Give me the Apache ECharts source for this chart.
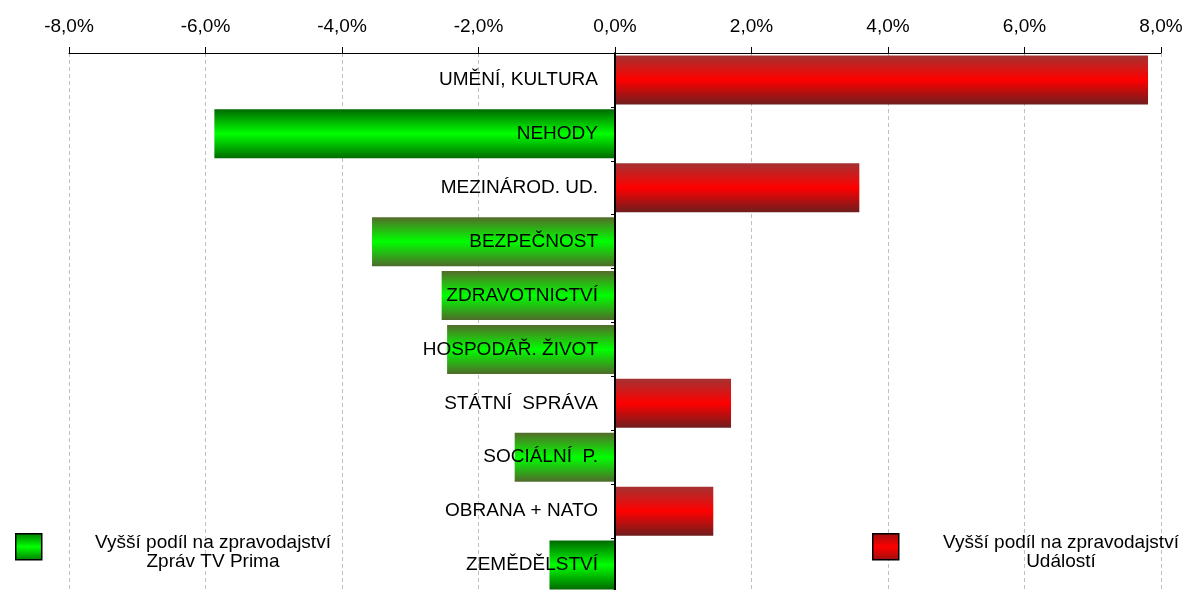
<!DOCTYPE html>
<html>
<head>
<meta charset="utf-8">
<script src="https://cdn.jsdelivr.net/npm/echarts@6/dist/echarts.min.js"></script>
<style>
html,body{margin:0;padding:0;background:#fff;}
#chart{width:1191px;height:590px;}
</style>
</head>
<body>
<div id="chart"></div>
<script>
// ---- data ----
const categories = ['UMĚNÍ, KULTURA', 'NEHODY', 'MEZINÁROD. UD.', 'BEZPEČNOST', 'ZDRAVOTNICTVÍ',
  'HOSPODÁŘ. ŽIVOT', 'STÁTNÍ  SPRÁVA', 'SOCIÁLNÍ  P.', 'OBRANA + NATO', 'ZEMĚDĚLSTVÍ'];
const values = [7.81, -5.87, 3.58, -3.56, -2.54, -2.46, 1.70, -1.47, 1.44, -0.96];
const axisTicks = [-8, -6, -4, -2, 0, 2, 4, 6, 8];
const legendLabels = ['Vyšší podíl na zpravodajství\nZpráv TV Prima', 'Vyšší podíl na zpravodajství\nUdálostí'];

// ---- styles ----
const FONT = '"Liberation Sans", Arial, sans-serif';
const darkGreenCats = ['NEHODY', 'ZEMĚDĚLSTVÍ'];
function grad(edgeTop, mid, edgeBottom) {
  return new echarts.graphic.LinearGradient(0, 0, 0, 1, [
    {offset: 0, color: edgeTop}, {offset: 0.5, color: mid}, {offset: 1, color: edgeBottom}
  ]);
}
const redGrad = () => grad('#a33232', '#ff0000', '#6e1e1e');
const greenDark = () => grad('#006a00', '#00ff00', '#006a00');
const greenOlive = () => grad('#556b2a', '#00ff00', '#4f6a2a');

const chart = echarts.init(document.getElementById('chart'));
const option = {
  animation: false,
  textStyle: {fontFamily: FONT},
  grid: {left: 69, right: 30, top: 53, bottom: -2, containLabel: false, outerBoundsMode: 'none'},
  xAxis: {
    type: 'value', position: 'top', min: axisTicks[0], max: axisTicks[axisTicks.length - 1], interval: 2,
    axisLine: {show: true, onZero: false, lineStyle: {color: '#000', width: 1}},
    axisTick: {show: true, inside: false, length: 6, lineStyle: {color: '#000'}},
    axisLabel: {color: '#000', fontSize: 19, margin: 17,
      formatter: v => v.toFixed(1).replace('.', ',') + '%'},
    splitLine: {show: true, lineStyle: {color: '#c0c0c0', type: [4, 3], width: 1}}
  },
  yAxis: {
    type: 'category', data: categories, inverse: true, z: 5,
    axisLine: {show: true, onZero: true, lineStyle: {color: '#000', width: 2}},
    axisTick: {show: true, length: 4, lineStyle: {color: '#000'}},
    axisLabel: {show: false}
  },
  series: [{
    type: 'bar',
    barCategoryGap: '9%',
    data: values.map((v, i) => ({
      value: v,
      itemStyle: {color: v >= 0 ? redGrad() : (darkGreenCats.includes(categories[i]) ? greenDark() : greenOlive())}
    }))
  }, {
    type: 'scatter', z: 6, symbolSize: 0, silent: true,
    itemStyle: {opacity: 1},
    data: categories.map(c => [0, c]),
    label: {show: true, position: 'left', distance: 17, color: '#000', opacity: 1,
      textBorderWidth: 0, fontSize: 19, fontFamily: FONT,
      formatter: p => categories[p.dataIndex]}
  }],
  graphic: {
    elements: [
      {type: 'rect', z: 20, left: 15, top: 533, shape: {width: 26, height: 26},
        style: {fill: grad('#007a00', '#00ff00', '#007a00'), stroke: '#000', lineWidth: 1.5}},
      {type: 'text', z: 20, x: 213, y: 552, style: {text: legendLabels[0], align: 'center', verticalAlign: 'middle',
        font: '19px ' + FONT, fill: '#000', lineHeight: 19}},
      {type: 'rect', z: 20, left: 872, top: 533, shape: {width: 26, height: 26},
        style: {fill: grad('#9a1010', '#ff0000', '#9a1010'), stroke: '#000', lineWidth: 1.5}},
      {type: 'text', z: 20, x: 1061, y: 552, style: {text: legendLabels[1], align: 'center', verticalAlign: 'middle',
        font: '19px ' + FONT, fill: '#000', lineHeight: 19}}
    ]
  }
};
chart.setOption(option);
</script>
</body>
</html>
